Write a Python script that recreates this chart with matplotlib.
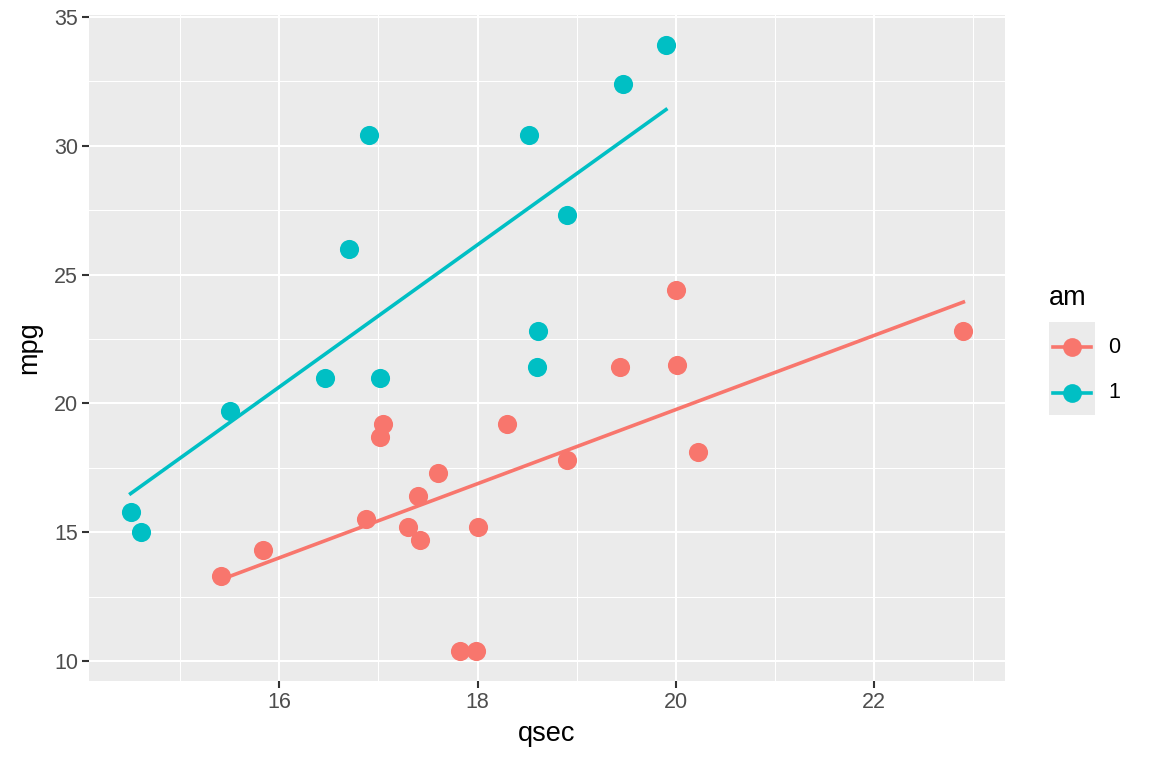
import numpy as np
import matplotlib.pyplot as plt
from matplotlib.lines import Line2D
from matplotlib.patches import Rectangle

plt.rcParams['font.family'] = ['Liberation Sans', 'DejaVu Sans']

# mtcars: qsec, mpg, am
qsec = [16.46, 17.02, 18.61, 19.44, 17.02, 20.22, 15.84, 20.00, 22.90, 18.30,
        18.90, 17.40, 17.60, 18.00, 17.98, 17.82, 17.42, 19.47, 18.52, 19.90,
        20.01, 16.87, 17.30, 15.41, 17.05, 18.90, 16.70, 16.90, 14.50, 15.50,
        14.60, 18.60]
mpg = [21.0, 21.0, 22.8, 21.4, 18.7, 18.1, 14.3, 24.4, 22.8, 19.2,
       17.8, 16.4, 17.3, 15.2, 10.4, 10.4, 14.7, 32.4, 30.4, 33.9,
       21.5, 15.5, 15.2, 13.3, 19.2, 27.3, 26.0, 30.4, 15.8, 19.7,
       15.0, 21.4]
am = [1, 1, 1, 0, 0, 0, 0, 0, 0, 0,
      0, 0, 0, 0, 0, 0, 0, 1, 1, 1,
      0, 0, 0, 0, 0, 1, 1, 1, 1, 1,
      1, 1]
groups = [0, 1]
colors = {0: '#F8766D', 1: '#00BFC4'}

qsec = np.array(qsec)
mpg = np.array(mpg)
am = np.array(am)

fig = plt.figure(figsize=(11.52, 7.68), dpi=100)
ax = fig.add_axes([89 / 1152, 1 - 681 / 768, (1005 - 89) / 1152, (681 - 15) / 768])
ax.set_facecolor('#EBEBEB')

# points + a linear fit per group
for g in groups:
    x = qsec[am == g]
    y = mpg[am == g]
    ax.scatter(x, y, s=190, color=colors[g], zorder=3, linewidths=0)
    slope, icpt = np.polyfit(x, y, 1)
    xs = np.array([x.min(), x.max()])
    ax.plot(xs, icpt + slope * xs, color=colors[g], lw=2.6, zorder=2)

xr = qsec.max() - qsec.min()
yr = mpg.max() - mpg.min()
ax.set_xlim(qsec.min() - 0.05 * xr, qsec.max() + 0.05 * xr)
ax.set_ylim(mpg.min() - 0.05 * yr, mpg.max() + 0.05 * yr)

ax.set_xticks([16, 18, 20, 22])
ax.set_xticks([15, 17, 19, 21, 23], minor=True)
ax.set_yticks([10, 15, 20, 25, 30, 35])
ax.set_yticks([12.5, 17.5, 22.5, 27.5, 32.5], minor=True)
ax.grid(which='major', color='white', lw=1.5)
ax.grid(which='minor', color='white', lw=0.75)
ax.set_axisbelow(True)
for s in ax.spines.values():
    s.set_visible(False)
ax.tick_params(which='major', length=5, width=1.5, color='#333333',
               labelsize=15.5, labelcolor='#4D4D4D', pad=3)
ax.tick_params(which='minor', length=0)

ax.set_xlabel('qsec', fontsize=19.5, labelpad=6)
ax.set_ylabel('mpg', fontsize=19.5, labelpad=8)

# legend drawn by hand, ggplot style
def fx(px):
    return px / 1152

def fy(py):
    return 1 - py / 768

fig.text(fx(1049), fy(298), 'am', fontsize=19.5, va='center', ha='left')
fig.add_artist(Rectangle((fx(1049), fy(415)), fx(1095) - fx(1049), fy(322) - fy(415),
                         transform=fig.transFigure, facecolor='#EBEBEB', edgecolor='none'))
for g, yc in zip(groups, [347, 393]):
    fig.add_artist(Line2D([fx(1053), fx(1091)], [fy(yc), fy(yc)], transform=fig.transFigure,
                          color=colors[g], lw=2.6))
    fig.add_artist(Line2D([fx(1072)], [fy(yc)], transform=fig.transFigure, marker='o',
                          markersize=13.5, color=colors[g], markeredgewidth=0))
    fig.text(fx(1108), fy(yc), str(g), fontsize=15.5, va='center', ha='left')

fig.savefig('out.png', dpi=100)
